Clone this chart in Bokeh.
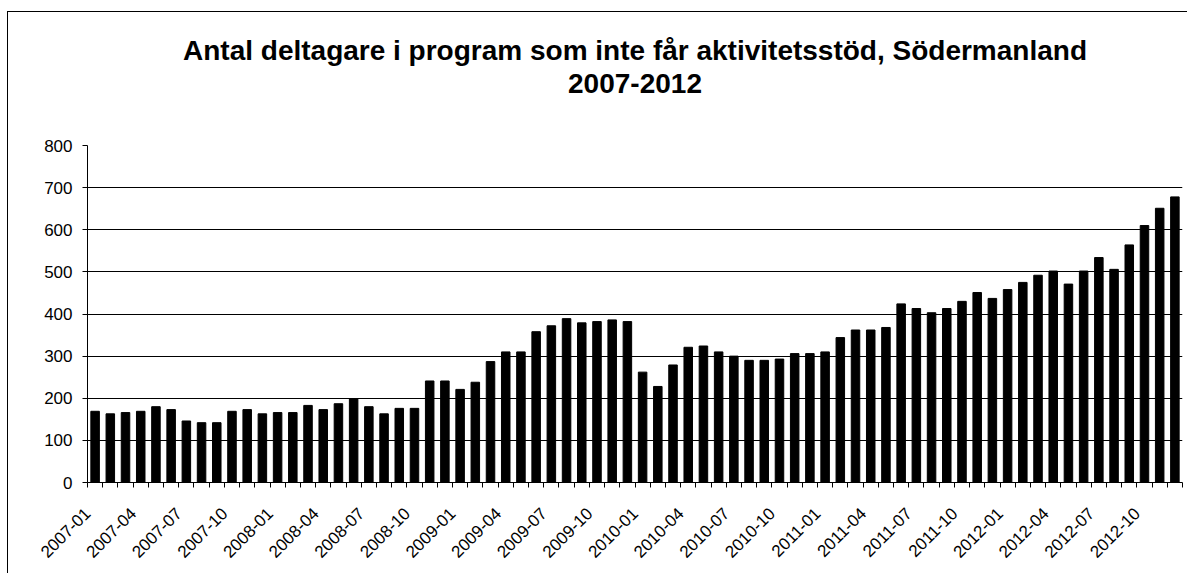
from bokeh.plotting import figure
from bokeh.models import Range1d, FixedTicker, Title
from bokeh.embed import file_html
from bokeh.resources import INLINE
import math

months = [f"{y}-{m:02d}" for y in range(2007, 2013) for m in range(1, 13)]
values = [169, 163, 166, 169, 180, 173, 146, 142, 142, 169, 173, 163,
          166, 166, 183, 173, 187, 198, 180, 163, 176, 176, 241, 241,
          221, 238, 287, 310, 310, 358, 372, 389, 379, 382, 386, 382,
          262, 228, 279, 321, 324, 310, 300, 290, 290, 293, 306, 306,
          310, 344, 362, 362, 368, 424, 413, 403, 413, 430, 451, 437,
          458, 475, 492, 502, 471, 502, 534, 506, 564, 610, 651, 678]
y_ticks = [0, 100, 200, 300, 400, 500, 600, 700, 800]
title_line1 = "Antal deltagare i program som inte får aktivitetsstöd, Södermanland"
title_line2 = "2007-2012"

FONT = "Liberation Sans"
STEP = 10  # category slot width in data units
xs = [STEP * i for i in range(len(values))]

p = figure(width=1179, height=561, output_backend="svg", toolbar_location=None,
           x_range=Range1d(-STEP / 2, STEP * len(values) - STEP / 2), y_range=Range1d(0, 800),
           min_border_left=79, min_border_right=5, min_border_top=133, min_border_bottom=91,
           frame_width=1095, frame_height=337,
           styles={"border-left": "1px solid black", "border-top": "1px solid black",
                   "margin-top": "11px", "margin-left": "7px"})
p.title = None
p.add_layout(Title(text=title_line2, align="center", text_font=FONT, text_font_size="28px",
                   text_font_style="bold", text_color="black", standoff=106), "above")
p.add_layout(Title(text=title_line1, align="center", text_font=FONT, text_font_size="28px",
                   text_font_style="bold", text_color="black", standoff=-94), "above")

p.vbar(x=xs, top=values, width=0.56 * STEP, fill_color="black", line_color="black")

p.outline_line_color = None
p.background_fill_color = "white"
p.border_fill_color = "white"
p.xgrid.grid_line_color = None
p.ygrid.grid_line_color = "black"
p.ygrid.grid_line_width = 1
p.yaxis.ticker = FixedTicker(ticks=y_ticks)
p.yaxis.axis_line_color = "black"
p.yaxis.major_tick_line_color = "black"
p.yaxis.major_tick_out = 5
p.yaxis.major_tick_in = 0
p.yaxis.minor_tick_line_color = None
p.yaxis.major_label_text_font = FONT
p.yaxis.major_label_text_font_size = "17px"
p.yaxis.major_label_text_color = "black"
p.yaxis.major_label_standoff = 10

label_idx = list(range(0, len(values), 3))
label_ticks = [STEP * i - STEP // 2 for i in label_idx]
p.xaxis.ticker = FixedTicker(ticks=label_ticks,
                             minor_ticks=[STEP * i - STEP // 2 for i in range(len(values) + 1)])
p.xaxis.major_label_overrides = {t: months[i] for t, i in zip(label_ticks, label_idx)}
p.xaxis.major_label_orientation = math.pi / 4
p.xaxis.major_tick_out = 0
p.xaxis.major_tick_in = 0
p.xaxis.minor_tick_out = 5
p.xaxis.minor_tick_in = 0
p.xaxis.minor_tick_line_color = "black"
p.xaxis.axis_line_color = "black"
p.xaxis.major_label_text_font = FONT
p.xaxis.major_label_text_font_size = "17px"
p.xaxis.major_label_text_color = "black"
p.xaxis.major_label_standoff = 23

open("out.html", "w").write(file_html(p, INLINE))
